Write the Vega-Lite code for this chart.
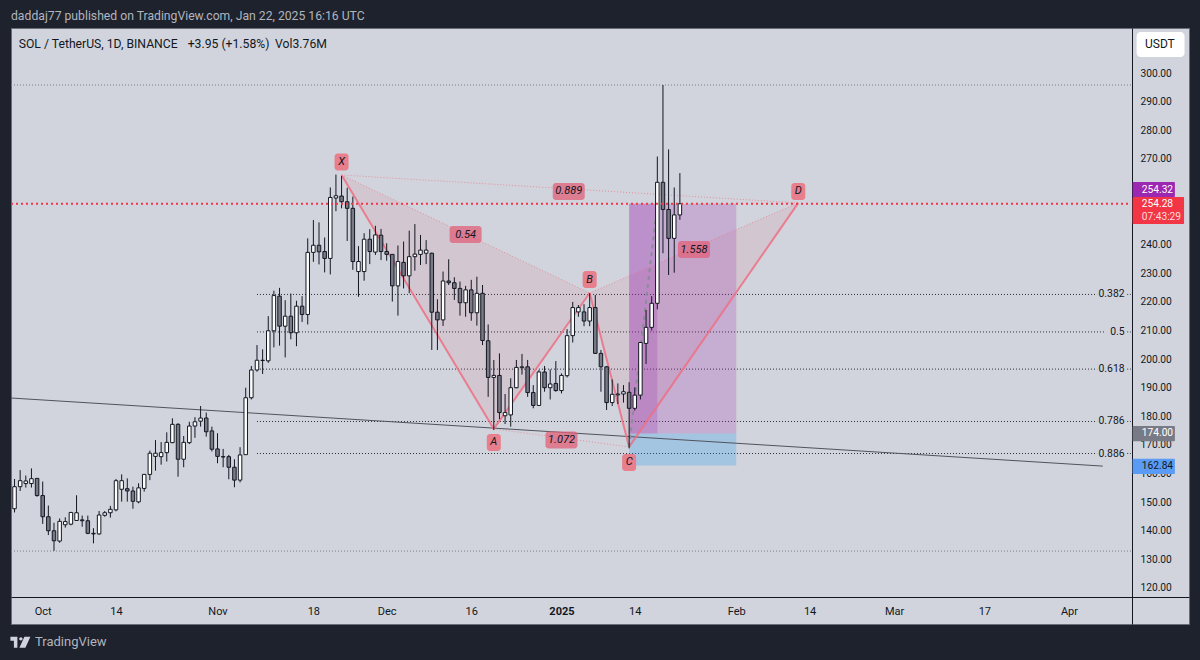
{
"$schema":"https://vega.github.io/schema/vega-lite/v6.json",
"width":1178,"height":596,
"autosize":"none",
"padding":{"left":11,"top":28,"right":11,"bottom":36},
"background":"#1e222d",
"view":{"fill":"#d1d4dc","stroke":"#6a6d78","strokeWidth":1},
"config":{"font":"Roboto","text":{"font":"Roboto"}},
"encoding":{
 "x":{"field":"date","type":"temporal","scale":{"type":"utc","domain":["2024-09-25T09:00:00Z","2025-04-22T07:00:00Z"],"nice":false,"padding":0},
  "axis":{"title":null,"orient":"bottom","offset":-27,"grid":false,"ticks":false,"domainColor":"#131722","labelColor":"#131722","labelFont":"Roboto","labelFontSize":11,"labelPadding":8,"labelAngle":0,"labelAlign":"center","labelOverlap":false,"labelFlush":false,
   "values":["2024-10-01T00:00:00Z","2024-10-14T00:00:00Z","2024-11-01T00:00:00Z","2024-11-18T00:00:00Z","2024-12-01T00:00:00Z","2024-12-16T00:00:00Z","2025-01-01T00:00:00Z","2025-01-14T00:00:00Z","2025-02-01T00:00:00Z","2025-02-14T00:00:00Z","2025-03-01T00:00:00Z","2025-03-17T00:00:00Z","2025-04-01T00:00:00Z"],
   "labelExpr":"utcdate(datum.value)==1 ? (utcmonth(datum.value)==0 ? '2025' : utcFormat(datum.value,'%b')) : utcFormat(datum.value,'%-d')",
   "labelFontWeight":{"condition":{"test":"utcmonth(datum.value)==0 && utcdate(datum.value)==1","value":"bold"},"value":"normal"}}},
 "y":{"field":"price","type":"quantitative","scale":{"domain":[107.41,315.73],"nice":false,"zero":false},
  "axis":{"title":null,"orient":"right","offset":-57,"grid":false,"ticks":false,"domainColor":"#131722","labelColor":"#131722","labelFont":"Roboto","labelFontSize":10.2,"labelPadding":8,"labelOverlap":false,"format":".2f",
   "values":[120,130,140,150,160,170,180,190,200,210,220,230,240,250,260,270,280,290,300]}}
},
"layer":[
{"data":{"values":[{"date":"2024-09-25T09:00:00Z","date2":"2025-04-12T00:00:00Z","price":295.8},{"date":"2024-09-25T09:00:00Z","date2":"2025-04-12T00:00:00Z","price":132.9}],"format":{"parse":{"date":"date","date2":"date"}}},
 "mark":{"type":"rule","color":"#7b7e89","strokeWidth":1,"strokeDash":[1,2]},
 "encoding":{"x2":{"field":"date2"}}},
{"data":{"values":[
 {"date":"2024-11-08","date2":"2025-04-06","price":222.6},{"date":"2025-04-11T08:00:00Z","date2":"2025-04-12","price":222.6},
 {"date":"2024-11-08","date2":"2025-04-07T10:00:00Z","price":209.5},{"date":"2025-04-11T08:00:00Z","date2":"2025-04-12","price":209.5},
 {"date":"2024-11-08","date2":"2025-04-06","price":196.5},{"date":"2025-04-11T08:00:00Z","date2":"2025-04-12","price":196.5},
 {"date":"2024-11-08","date2":"2025-04-06","price":178.2},{"date":"2025-04-11T08:00:00Z","date2":"2025-04-12","price":178.2},
 {"date":"2024-11-08","date2":"2025-04-06","price":167.0},{"date":"2025-04-11T08:00:00Z","date2":"2025-04-12","price":167.0}],"format":{"parse":{"date":"date","date2":"date"}}},
 "mark":{"type":"rule","color":"#2a2e39","strokeWidth":1,"strokeDash":[1,2]},
 "encoding":{"x2":{"field":"date2"}}},
{"data":{"values":[{"date":"2025-04-10T21:00:00Z","price":222.6,"level":"0.382"},{"date":"2025-04-10T21:00:00Z","price":209.5,"level":"0.5"},{"date":"2025-04-10T21:00:00Z","price":196.5,"level":"0.618"},{"date":"2025-04-10T21:00:00Z","price":178.2,"level":"0.786"},{"date":"2025-04-10T21:00:00Z","price":167.0,"level":"0.886"}],"format":{"parse":{"date":"date"}}},
 "mark":{"type":"text","align":"right","baseline":"middle","fontSize":10.4,"color":"#131722"},
 "encoding":{"text":{"field":"level"}}},
{"data":{"values":[{"date":"2024-11-23","price":264.35,"price2":264.35},{"date":"2024-12-20","price":239.04,"price2":175.6},{"date":"2025-01-06","price":223.1,"price2":223.1}],"format":{"parse":{"date":"date"}}},
 "mark":{"type":"area","color":"#e0415a","opacity":0.09},
 "encoding":{"y2":{"field":"price2"}}},
{"data":{"values":[{"date":"2025-01-06","price":223.1,"price2":223.1},{"date":"2025-01-13","price":229.06,"price2":169.3},{"date":"2025-02-12","price":254.6,"price2":254.6}],"format":{"parse":{"date":"date"}}},
 "mark":{"type":"area","color":"#e0415a","opacity":0.09},
 "encoding":{"y2":{"field":"price2"}}},
{"data":{"values":[{"date":"2025-01-13","date2":"2025-02-01","price":254.28,"price2":174.0}],"format":{"parse":{"date":"date","date2":"date"}}},
 "mark":{"type":"rect","color":"#9c27b0","opacity":0.22},
 "encoding":{"x2":{"field":"date2"},"y2":{"field":"price2"}}},
{"data":{"values":[{"date":"2025-01-13","date2":"2025-01-18","price":254.28,"price2":174.0}],"format":{"parse":{"date":"date","date2":"date"}}},
 "mark":{"type":"rect","color":"#9c27b0","opacity":0.22},
 "encoding":{"x2":{"field":"date2"},"y2":{"field":"price2"}}},
{"data":{"values":[{"date":"2025-01-13","date2":"2025-02-01","price":174.0,"price2":162.84}],"format":{"parse":{"date":"date","date2":"date"}}},
 "mark":{"type":"rect","color":"#2196f3","opacity":0.25},
 "encoding":{"x2":{"field":"date2"},"y2":{"field":"price2"}}},
{"data":{"values":[{"date":"2024-09-25T09:00:00Z","date2":"2025-04-07","price":186.4,"price2":162.6}],"format":{"parse":{"date":"date","date2":"date"}}},
 "mark":{"type":"rule","color":"#50535e","strokeWidth":1},
 "encoding":{"x2":{"field":"date2"},"y2":{"field":"price2"}}},
{"data":{"values":[
 {"date":"2024-11-23","date2":"2024-12-20","price":264.35,"price2":175.6},
 {"date":"2024-12-20","date2":"2025-01-06","price":175.6,"price2":223.1},
 {"date":"2025-01-06","date2":"2025-01-13","price":223.1,"price2":169.3},
 {"date":"2025-01-13","date2":"2025-02-12","price":169.3,"price2":254.6}],"format":{"parse":{"date":"date","date2":"date"}}},
 "mark":{"type":"rule","color":"#ee6f82","strokeWidth":2,"opacity":0.85},
 "encoding":{"x2":{"field":"date2"},"y2":{"field":"price2"}}},
{"data":{"values":[
 {"date":"2024-11-23","date2":"2025-01-06","price":264.35,"price2":223.1},
 {"date":"2024-12-20","date2":"2025-01-13","price":175.6,"price2":169.3},
 {"date":"2025-01-06","date2":"2025-02-12","price":223.1,"price2":254.6},
 {"date":"2024-11-23","date2":"2025-02-12","price":264.35,"price2":254.6}],"format":{"parse":{"date":"date","date2":"date"}}},
 "mark":{"type":"rule","color":"#ee6f82","strokeWidth":1,"strokeDash":[1,2],"opacity":0.7},
 "encoding":{"x2":{"field":"date2"},"y2":{"field":"price2"}}},
{"data":{"values":[{"date":"2025-01-13","date2":"2025-01-18","price":169.3,"price2":254.28}],"format":{"parse":{"date":"date","date2":"date"}}},
 "mark":{"type":"rule","color":"#8a8d96","strokeWidth":2,"strokeDash":[4,4]},
 "encoding":{"x2":{"field":"date2"},"y2":{"field":"price2"}}},
{"data":{"name":"candles","values":[
{"date":"2024-09-26","open":147.7,"high":158.1,"low":146.4,"close":155.4},
{"date":"2024-09-27","open":155.4,"high":161.2,"low":153.9,"close":157.5},
{"date":"2024-09-28","open":156.5,"high":159.3,"low":155.1,"close":157.4},
{"date":"2024-09-29","open":156.5,"high":161.8,"low":155.1,"close":158.2},
{"date":"2024-09-30","open":158.3,"high":158.3,"low":151.9,"close":152.3},
{"date":"2024-10-01","open":152.3,"high":157.2,"low":142.4,"close":144.9},
{"date":"2024-10-02","open":144.9,"high":148.8,"low":138.5,"close":140.0},
{"date":"2024-10-03","open":140.0,"high":142.8,"low":133.0,"close":136.5},
{"date":"2024-10-04","open":136.4,"high":144.3,"low":135.8,"close":143.3},
{"date":"2024-10-05","open":142.1,"high":144.7,"low":141.1,"close":143.2},
{"date":"2024-10-06","open":142.3,"high":146.6,"low":141.9,"close":146.4},
{"date":"2024-10-07","open":143.6,"high":152.4,"low":143.6,"close":146.3},
{"date":"2024-10-08","open":143.8,"high":145.3,"low":141.4,"close":143.5},
{"date":"2024-10-09","open":143.5,"high":145.3,"low":138.8,"close":139.1},
{"date":"2024-10-10","open":139.1,"high":140.9,"low":135.6,"close":138.9},
{"date":"2024-10-11","open":138.9,"high":146.9,"low":138.6,"close":145.5},
{"date":"2024-10-12","open":145.4,"high":146.9,"low":144.9,"close":146.3},
{"date":"2024-10-13","open":146.3,"high":148.7,"low":144.6,"close":147.5},
{"date":"2024-10-14","open":147.3,"high":158.1,"low":146.8,"close":157.5},
{"date":"2024-10-15","open":154.5,"high":159.7,"low":150.2,"close":157.5},
{"date":"2024-10-16","open":154.7,"high":158.3,"low":150.2,"close":153.9},
{"date":"2024-10-17","open":153.9,"high":155.4,"low":147.7,"close":150.3},
{"date":"2024-10-18","open":150.1,"high":156.6,"low":149.6,"close":155.0},
{"date":"2024-10-19","open":154.8,"high":159.8,"low":153.7,"close":159.7},
{"date":"2024-10-20","open":159.7,"high":168.0,"low":157.7,"close":167.1},
{"date":"2024-10-21","open":166.0,"high":171.7,"low":161.0,"close":167.1},
{"date":"2024-10-22","open":165.9,"high":171.0,"low":163.1,"close":167.3},
{"date":"2024-10-23","open":167.3,"high":174.4,"low":164.2,"close":170.9},
{"date":"2024-10-24","open":170.8,"high":179.3,"low":170.6,"close":177.2},
{"date":"2024-10-25","open":177.2,"high":177.6,"low":158.9,"close":165.0},
{"date":"2024-10-26","open":165.0,"high":173.1,"low":162.2,"close":170.9},
{"date":"2024-10-27","open":170.8,"high":178.1,"low":170.3,"close":176.6},
{"date":"2024-10-28","open":176.6,"high":179.7,"low":172.5,"close":178.1},
{"date":"2024-10-29","open":178.3,"high":183.6,"low":176.4,"close":179.4},
{"date":"2024-10-30","open":179.4,"high":181.3,"low":172.9,"close":174.6},
{"date":"2024-10-31","open":174.9,"high":176.4,"low":167.7,"close":168.5},
{"date":"2024-11-01","open":168.6,"high":174.1,"low":163.6,"close":166.0},
{"date":"2024-11-02","open":165.9,"high":168.6,"low":162.2,"close":165.8},
{"date":"2024-11-03","open":165.9,"high":166.5,"low":158.0,"close":162.2},
{"date":"2024-11-04","open":162.2,"high":165.0,"low":155.2,"close":157.7},
{"date":"2024-11-05","open":157.7,"high":169.2,"low":156.9,"close":166.5},
{"date":"2024-11-06","open":166.6,"high":190.0,"low":166.6,"close":186.5},
{"date":"2024-11-07","open":186.5,"high":197.6,"low":185.9,"close":196.2},
{"date":"2024-11-08","open":196.2,"high":204.9,"low":195.6,"close":199.6},
{"date":"2024-11-09","open":199.6,"high":203.4,"low":194.8,"close":199.5},
{"date":"2024-11-10","open":199.4,"high":215.0,"low":198.7,"close":209.9},
{"date":"2024-11-11","open":209.9,"high":223.9,"low":204.1,"close":222.2},
{"date":"2024-11-12","open":222.0,"high":224.9,"low":204.7,"close":211.5},
{"date":"2024-11-13","open":211.5,"high":220.6,"low":200.6,"close":215.0},
{"date":"2024-11-14","open":215.0,"high":222.9,"low":206.9,"close":209.2},
{"date":"2024-11-15","open":209.2,"high":220.4,"low":204.5,"close":218.5},
{"date":"2024-11-16","open":218.5,"high":222.0,"low":213.0,"close":215.6},
{"date":"2024-11-17","open":215.6,"high":242.2,"low":212.1,"close":237.3},
{"date":"2024-11-18","open":237.3,"high":248.6,"low":234.0,"close":239.8},
{"date":"2024-11-19","open":239.8,"high":247.8,"low":233.1,"close":237.5},
{"date":"2024-11-20","open":237.6,"high":242.5,"low":230.3,"close":235.2},
{"date":"2024-11-21","open":235.2,"high":260.0,"low":229.6,"close":256.5},
{"date":"2024-11-22","open":256.3,"high":264.5,"low":251.7,"close":257.1},
{"date":"2024-11-23","open":257.0,"high":264.0,"low":252.7,"close":255.0},
{"date":"2024-11-24","open":255.0,"high":259.9,"low":241.3,"close":252.7},
{"date":"2024-11-25","open":252.7,"high":256.8,"low":231.2,"close":234.1},
{"date":"2024-11-26","open":230.6,"high":239.5,"low":221.8,"close":234.1},
{"date":"2024-11-27","open":230.6,"high":244.0,"low":227.4,"close":241.9},
{"date":"2024-11-28","open":241.9,"high":245.4,"low":233.2,"close":237.6},
{"date":"2024-11-29","open":237.4,"high":246.6,"low":236.4,"close":243.4},
{"date":"2024-11-30","open":243.3,"high":245.5,"low":234.6,"close":237.6},
{"date":"2024-12-01","open":237.6,"high":240.5,"low":234.4,"close":236.6},
{"date":"2024-12-02","open":236.6,"high":236.6,"low":220.1,"close":225.6},
{"date":"2024-12-03","open":225.6,"high":239.7,"low":215.2,"close":234.1},
{"date":"2024-12-04","open":233.8,"high":241.1,"low":224.7,"close":229.1},
{"date":"2024-12-05","open":229.1,"high":244.9,"low":223.0,"close":235.8},
{"date":"2024-12-06","open":235.8,"high":247.2,"low":230.9,"close":236.7},
{"date":"2024-12-07","open":236.6,"high":243.4,"low":232.9,"close":238.1},
{"date":"2024-12-08","open":237.0,"high":241.6,"low":233.2,"close":238.1},
{"date":"2024-12-09","open":237.0,"high":237.2,"low":203.2,"close":216.4},
{"date":"2024-12-10","open":216.4,"high":220.9,"low":203.2,"close":213.7},
{"date":"2024-12-11","open":213.7,"high":230.6,"low":211.6,"close":227.3},
{"date":"2024-12-12","open":227.3,"high":234.9,"low":225.9,"close":226.7},
{"date":"2024-12-13","open":226.7,"high":228.6,"low":220.7,"close":224.7},
{"date":"2024-12-14","open":224.7,"high":227.1,"low":215.2,"close":219.7},
{"date":"2024-12-15","open":219.7,"high":225.6,"low":214.8,"close":224.2},
{"date":"2024-12-16","open":224.2,"high":227.7,"low":213.4,"close":216.2},
{"date":"2024-12-17","open":216.2,"high":228.8,"low":211.7,"close":223.0},
{"date":"2024-12-18","open":223.0,"high":225.9,"low":204.9,"close":206.5},
{"date":"2024-12-19","open":206.4,"high":212.1,"low":186.8,"close":193.6},
{"date":"2024-12-20","open":193.6,"high":199.7,"low":175.2,"close":194.3},
{"date":"2024-12-21","open":194.3,"high":202.0,"low":179.0,"close":181.3},
{"date":"2024-12-22","open":180.2,"high":187.8,"low":177.3,"close":181.3},
{"date":"2024-12-23","open":180.5,"high":193.3,"low":176.4,"close":190.0},
{"date":"2024-12-24","open":190.0,"high":199.7,"low":189.8,"close":197.1},
{"date":"2024-12-25","open":197.0,"high":201.8,"low":194.6,"close":197.3},
{"date":"2024-12-26","open":197.3,"high":199.7,"low":186.8,"close":188.3},
{"date":"2024-12-27","open":188.3,"high":190.9,"low":182.8,"close":183.8},
{"date":"2024-12-28","open":183.8,"high":196.2,"low":183.6,"close":195.5},
{"date":"2024-12-29","open":195.5,"high":197.6,"low":188.6,"close":190.0},
{"date":"2024-12-30","open":190.0,"high":196.4,"low":185.9,"close":191.3},
{"date":"2024-12-31","open":191.5,"high":199.3,"low":188.6,"close":189.0},
{"date":"2025-01-01","open":189.0,"high":195.0,"low":188.0,"close":194.3},
{"date":"2025-01-02","open":194.2,"high":210.5,"low":193.6,"close":208.2},
{"date":"2025-01-03","open":208.2,"high":220.0,"low":205.8,"close":218.0},
{"date":"2025-01-04","open":216.5,"high":218.9,"low":214.8,"close":218.0},
{"date":"2025-01-05","open":216.5,"high":219.2,"low":211.5,"close":213.3},
{"date":"2025-01-06","open":213.3,"high":223.0,"low":211.5,"close":218.0},
{"date":"2025-01-07","open":218.0,"high":222.4,"low":201.8,"close":202.0},
{"date":"2025-01-08","open":202.0,"high":203.2,"low":188.6,"close":197.3},
{"date":"2025-01-09","open":197.3,"high":197.6,"low":182.2,"close":184.8},
{"date":"2025-01-10","open":184.8,"high":192.9,"low":183.6,"close":187.7},
{"date":"2025-01-11","open":187.5,"high":191.5,"low":184.3,"close":187.8},
{"date":"2025-01-12","open":187.8,"high":190.9,"low":184.8,"close":188.6},
{"date":"2025-01-13","open":188.4,"high":191.9,"low":168.8,"close":182.8},
{"date":"2025-01-14","open":182.8,"high":190.1,"low":182.0,"close":187.4},
{"date":"2025-01-15","open":187.4,"high":206.0,"low":185.9,"close":205.8},
{"date":"2025-01-16","open":205.5,"high":217.2,"low":198.3,"close":211.1},
{"date":"2025-01-17","open":211.1,"high":222.0,"low":210.0,"close":219.5},
{"date":"2025-01-18","open":219.5,"high":270.8,"low":217.4,"close":261.8},
{"date":"2025-01-19","open":261.8,"high":295.8,"low":237.0,"close":252.3},
{"date":"2025-01-20","open":252.3,"high":273.3,"low":229.4,"close":242.2},
{"date":"2025-01-21","open":242.2,"high":260.0,"low":230.2,"close":250.4},
{"date":"2025-01-22","open":250.4,"high":265.0,"low":248.7,"close":254.28}
],"format":{"parse":{"date":"date"}}},
 "layer":[
 {"mark":{"type":"rule","color":"#131722","strokeWidth":1},
  "encoding":{"y":{"field":"low","type":"quantitative","scale":{"domain":[107.41,315.73],"nice":false,"zero":false},
    "axis":{"title":null,"orient":"right","offset":-57,"grid":false,"ticks":false,"domainColor":"#131722","labelColor":"#131722","labelFont":"Roboto","labelFontSize":10.2,"labelPadding":8,"labelOverlap":false,"format":".2f","values":[120,130,140,150,160,170,180,190,200,210,220,230,240,250,260,270,280,290,300]}},"y2":{"field":"high"}}},
 {"mark":{"type":"bar","size":3.5,"stroke":"#131722","strokeWidth":1},
  "encoding":{"y":{"field":"open","type":"quantitative","scale":{"domain":[107.41,315.73],"nice":false,"zero":false},
    "axis":{"title":null,"orient":"right","offset":-57,"grid":false,"ticks":false,"domainColor":"#131722","labelColor":"#131722","labelFont":"Roboto","labelFontSize":10.2,"labelPadding":8,"labelOverlap":false,"format":".2f","values":[120,130,140,150,160,170,180,190,200,210,220,230,240,250,260,270,280,290,300]}},"y2":{"field":"close"},
   "fill":{"condition":{"test":"datum.close >= datum.open","value":"#ffffff"},"value":"#787b86"}}}
 ]},
{"data":{"values":[{"date":"2024-09-25T09:00:00Z","date2":"2025-04-12T00:00:00Z","price":254.28}],"format":{"parse":{"date":"date","date2":"date"}}},
 "mark":{"type":"rule","color":"#f23645","strokeWidth":2,"strokeDash":[2,3]},
 "encoding":{"x2":{"field":"date2"}}},
{"data":{"values":[{"date":"2024-11-23","price":268.9,"label":"X"},{"date":"2024-12-20","price":170.85,"label":"A"},{"date":"2025-01-06","price":227.8,"label":"B"},{"date":"2025-01-13","price":163.9,"label":"C"},{"date":"2025-02-12","price":258.6,"label":"D"}],"format":{"parse":{"date":"date"}}},
 "layer":[
 {"mark":{"type":"rect","width":14,"height":17,"color":"#e77f8d","cornerRadius":3}},
 {"mark":{"type":"text","fontSize":11,"fontStyle":"italic","color":"#131722","baseline":"middle"},"encoding":{"text":{"field":"label"}}}
 ]},
{"data":{"values":[{"date":"2024-12-15","price":243.55,"label":"0.54"},{"date":"2025-01-01","price":171.7,"label":"1.072"},{"date":"2025-01-24T12:00:00Z","price":238.3,"label":"1.558"},{"date":"2025-01-02T07:00:00Z","price":258.6,"label":"0.889"}],"format":{"parse":{"date":"date"}}},
 "layer":[
 {"mark":{"type":"rect","width":32,"height":17,"color":"#e0607a","opacity":0.75,"cornerRadius":3}},
 {"mark":{"type":"text","fontSize":11,"fontStyle":"italic","color":"#131722","baseline":"middle"},"encoding":{"text":{"field":"label"}}}
 ]},
{"data":{"values":[{"date":"2025-04-13T00:00:00Z","date2":"2025-04-21T12:00:00Z","price":314.3,"price2":305.6}],"format":{"parse":{"date":"date","date2":"date"}}},
 "mark":{"type":"rect","color":"#ffffff","cornerRadius":4},
 "encoding":{"x2":{"field":"date2"},"y2":{"field":"price2"}}},
{"data":{"values":[{"date":"2025-04-17T03:00:00Z","price":310,"label":"USDT"}],"format":{"parse":{"date":"date"}}},
 "mark":{"type":"text","fontSize":12,"color":"#131722","baseline":"middle"},
 "encoding":{"text":{"field":"label"}}},
{"data":{"values":[{"date":"2025-04-12T07:00:00Z","date2":"2025-04-19T19:00:00Z","price":261.9,"price2":256.66}],"format":{"parse":{"date":"date","date2":"date"}}},
 "mark":{"type":"rect","color":"#9c27b0","cornerRadius":1},
 "encoding":{"x2":{"field":"date2"},"y2":{"field":"price2"}}},
{"data":{"values":[{"date":"2025-04-12T07:00:00Z","date2":"2025-04-21T10:00:00Z","price":256.66,"price2":247.2}],"format":{"parse":{"date":"date","date2":"date"}}},
 "mark":{"type":"rect","color":"#f23645","cornerRadius":1},
 "encoding":{"x2":{"field":"date2"},"y2":{"field":"price2"}}},
{"data":{"values":[{"date":"2025-04-12T07:00:00Z","date2":"2025-04-19T19:00:00Z","price":176.6,"price2":171.3}],"format":{"parse":{"date":"date","date2":"date"}}},
 "mark":{"type":"rect","color":"#787b86","cornerRadius":1},
 "encoding":{"x2":{"field":"date2"},"y2":{"field":"price2"}}},
{"data":{"values":[{"date":"2025-04-12T07:00:00Z","date2":"2025-04-19T19:00:00Z","price":165.2,"price2":159.8}],"format":{"parse":{"date":"date","date2":"date"}}},
 "mark":{"type":"rect","color":"#5a9cf5","cornerRadius":1},
 "encoding":{"x2":{"field":"date2"},"y2":{"field":"price2"}}},
{"data":{"values":[{"date":"2025-04-13T22:00:00Z","price":259.1,"label":"254.32"},{"date":"2025-04-13T22:00:00Z","price":254.1,"label":"254.28"},{"date":"2025-04-13T22:00:00Z","price":174.0,"label":"174.00"}],"format":{"parse":{"date":"date"}}},
 "mark":{"type":"text","fontSize":10.2,"color":"#ffffff","align":"left","baseline":"middle"},
 "encoding":{"text":{"field":"label"}}},
{"data":{"values":[{"date":"2025-04-13T22:00:00Z","price":249.8,"label":"07:43:29"}],"format":{"parse":{"date":"date"}}},
 "mark":{"type":"text","fontSize":10.2,"color":"#ffdadd","align":"left","baseline":"middle"},
 "encoding":{"text":{"field":"label"}}},
{"data":{"values":[{"date":"2025-04-13T22:00:00Z","price":162.6,"label":"162.84"}],"format":{"parse":{"date":"date"}}},
 "mark":{"type":"text","fontSize":10.2,"color":"#131722","align":"left","baseline":"middle"},
 "encoding":{"text":{"field":"label"}}},
{"data":{"values":[{"date":"2024-09-25T09:00:00Z","price":319.9,"label":"daddaj77 published on TradingView.com, Jan 22, 2025 16:16 UTC"}],"format":{"parse":{"date":"date"}}},
 "mark":{"type":"text","fontSize":12.2,"color":"#b2b5be","align":"left","baseline":"middle"},
 "encoding":{"text":{"field":"label"}}},
{"data":{"values":[{"date":"2024-09-26T18:00:00Z","price":310.1,"label":"SOL / TetherUS, 1D, BINANCE"},{"date":"2024-10-26T17:00:00Z","price":310.1,"label":"+3.95 (+1.58%)"},{"date":"2024-11-11T05:00:00Z","price":310.1,"label":"Vol3.76M"}],"format":{"parse":{"date":"date"}}},
 "mark":{"type":"text","fontSize":12.2,"color":"#131722","align":"left","baseline":"middle"},
 "encoding":{"text":{"field":"label"}}},
{"data":{"values":[{"date":"2024-09-27T01:00:00Z","price":101}],"format":{"parse":{"date":"date"}}},
 "mark":{"type":"point","shape":"M-1 -0.55H-0.3V0.55H-0.65V-0.15H-1Z M-0.12 -0.35a0.17 0.17 0 1 0 0.34 0a0.17 0.17 0 1 0 -0.34 0Z M0.4 -0.55H1L0.5 0.55H-0.1Z","filled":true,"color":"#d1d4dc","size":400,"opacity":1}},
{"data":{"values":[{"date":"2024-09-29T15:00:00Z","price":101,"label":"TradingView"}],"format":{"parse":{"date":"date"}}},
 "mark":{"type":"text","fontSize":13,"color":"#b2b5be","align":"left","baseline":"middle"},
 "encoding":{"text":{"field":"label"}}}
]
}
